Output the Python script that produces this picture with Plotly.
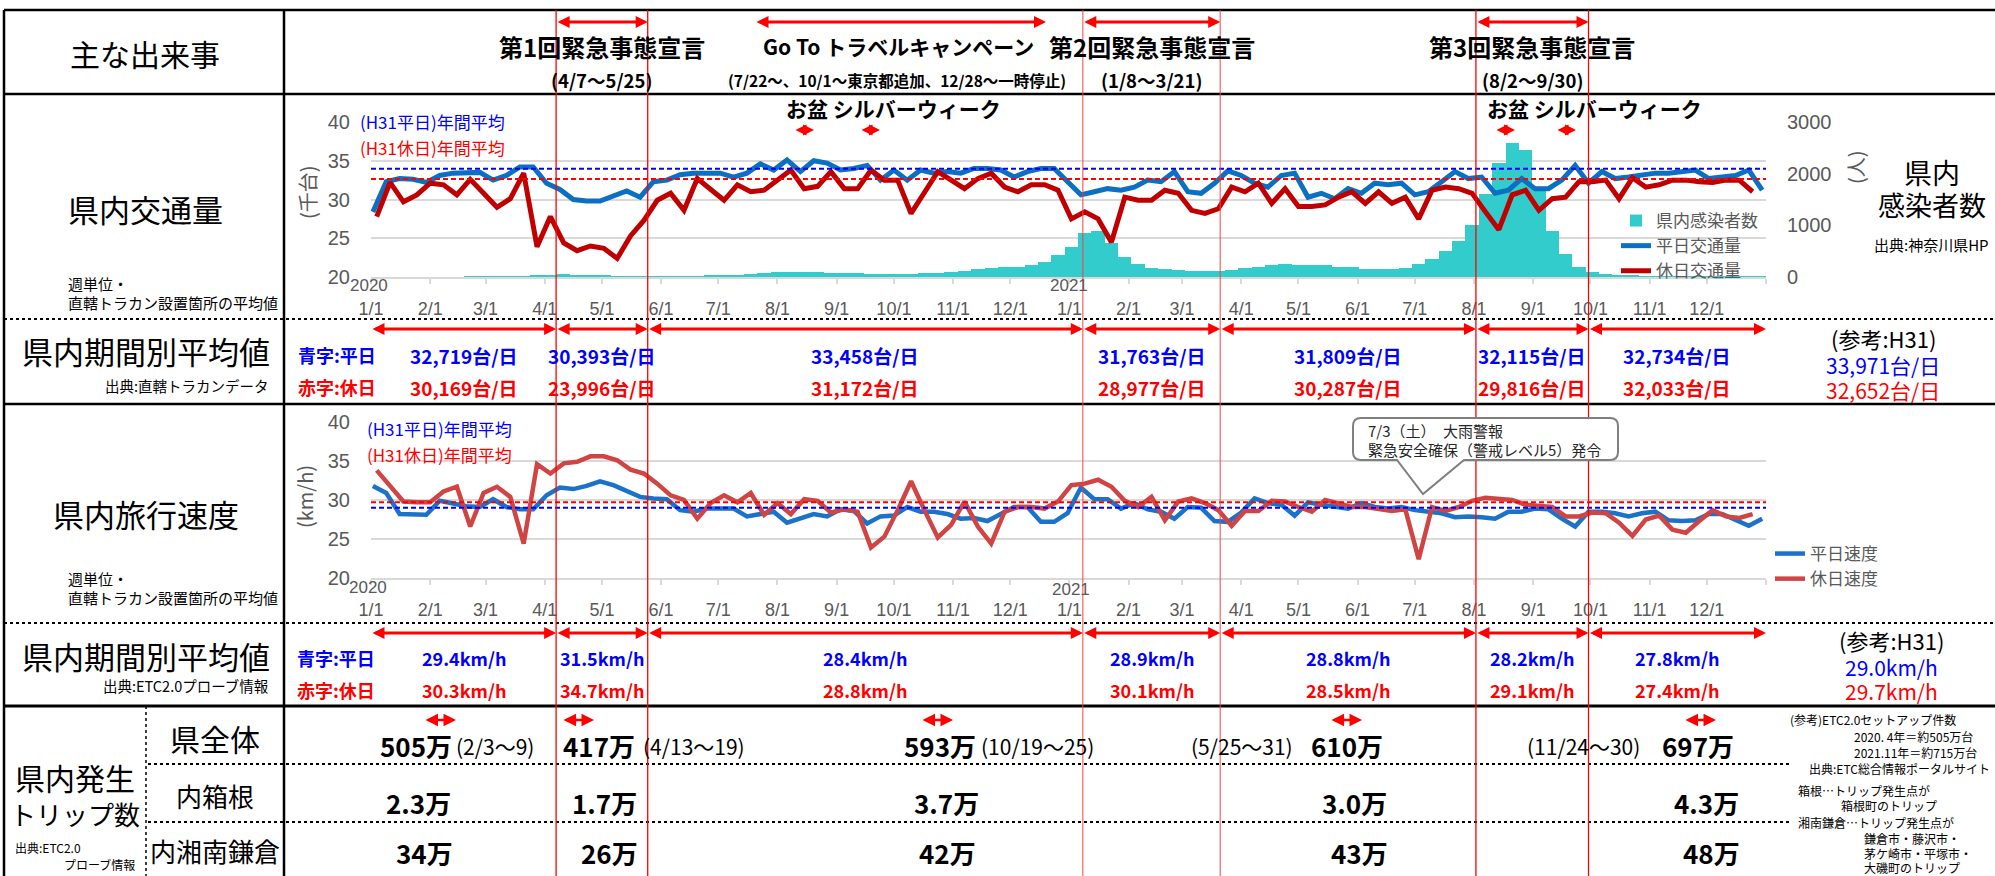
import plotly.graph_objects as go
import pandas as pd

W, H = 1995, 876
JP = "Noto Sans CJK JP"
LAT = "Liberation Sans"
GRAY = "#595959"
BLUE_T = "#0000FF"
RED_T = "#FF0000"

# ---------------- data ----------------
traffic_weekday = [28.4, 32.3, 32.7, 32.6, 32.2, 33.1, 33.4, 33.5, 33.5, 32.5, 33.1, 34.2, 34.2, 32.1, 31.3,
                   30.0, 29.8, 29.8, 30.4, 31.1, 30.3, 32.3, 32.5, 33.2, 33.4, 33.4, 33.4, 32.9, 33.4, 34.6,
                   33.8, 35.1, 33.6, 35.0, 34.7, 33.8, 34.0, 34.4, 32.5, 33.8, 32.5, 33.8, 33.4, 33.6, 33.4,
                   34.0, 34.0, 33.8, 32.9, 33.6, 34.0, 34.0, 32.3, 30.6, 31.0, 31.4, 31.2, 31.6, 32.5, 32.3,
                   33.6, 31.0, 30.8, 32.1, 33.7, 33.1, 32.1, 31.6, 33.1, 33.4, 30.3, 30.8, 30.1, 31.4, 30.8,
                   32.1, 31.9, 32.1, 30.6, 31.0, 32.3, 33.6, 32.7, 32.9, 30.8, 31.2, 32.7, 31.4, 31.4, 32.5,
                   34.4, 32.1, 33.6, 32.7, 32.9, 33.1, 33.4, 33.4, 33.6, 33.8, 32.7, 32.9, 33.1, 33.8, 31.2]
traffic_holiday = [27.8, 32.2, 29.7, 30.6, 32.1, 31.9, 30.6, 32.6, 30.8, 29.0, 30.1, 33.4, 23.9, 27.8, 24.4,
                   23.4, 24.0, 23.7, 22.4, 25.3, 27.3, 29.9, 30.8, 28.6, 32.7, 31.4, 29.9, 31.9, 31.0, 31.2,
                   32.5, 33.8, 31.4, 31.7, 33.6, 31.4, 31.4, 33.8, 32.5, 32.5, 28.2, 31.0, 33.6, 32.5, 31.4,
                   32.7, 33.4, 31.6, 31.0, 31.9, 31.9, 31.2, 27.5, 28.4, 27.5, 24.5, 30.3, 29.9, 29.9, 31.2,
                   30.8, 28.6, 28.2, 28.8, 31.6, 31.0, 32.1, 29.5, 31.4, 29.1, 29.1, 29.3, 30.3, 31.0, 29.5,
                   31.0, 29.5, 30.3, 27.5, 31.2, 31.6, 31.4, 30.8, 28.4, 26.1, 30.6, 31.2, 28.6, 30.1, 30.3,
                   32.3, 32.3, 32.5, 30.1, 32.8, 31.6, 31.9, 32.5, 32.5, 32.3, 32.2, 32.5, 32.5, 31.0]
cases_weekly = [0, 0, 0, 0, 0, 0, 0, 1, 3, 5, 8, 12, 20,
                40, 50, 45, 35, 20,
                10, 5, 3, 3, 5, 8, 12, 20,
                25, 35, 60, 80, 90, 100, 95, 90, 80,
                80, 70, 60, 60, 60, 60, 70, 80, 100,
                120, 150, 180, 200, 190, 230, 300, 420,
                580, 850, 900, 650, 380, 250, 180, 150, 130, 120, 110, 120, 130,
                180, 200, 230, 250, 240, 230, 230, 200, 190, 160, 150, 160, 180,
                250, 350, 500, 700, 1000, 1600, 2200, 2600, 2450, 1700, 900, 450, 200, 100,
                50, 30, 20, 15, 10, 10, 8, 8, 5, 5, 5, 5, 8]
speed_weekday = [31.8, 30.9, 28.2, 28.1, 28.1, 29.9, 29.5, 29.2, 29.1, 30.1, 29.1, 28.8, 28.8, 30.6, 31.6,
                 31.4, 31.8, 32.4, 31.9, 31.1, 30.4, 30.2, 30.1, 28.7, 28.5, 28.9, 28.9, 28.9, 27.9, 28.2,
                 28.5, 27.1, 27.6, 28.2, 27.9, 28.8, 28.6, 27.0, 27.9, 28.0, 29.1, 28.5, 28.5, 28.2, 27.6,
                 27.7, 27.3, 28.2, 29.1, 29.1, 27.2, 27.2, 28.3, 31.6, 30.1, 30.1, 28.9, 29.6, 28.8, 28.5,
                 27.6, 29.1, 29.0, 27.3, 27.2, 28.4, 30.2, 29.6, 29.4, 28.0, 29.7, 29.4, 29.1, 28.9, 29.6,
                 29.1, 28.9, 29.1, 28.7, 28.5, 28.3, 27.8, 27.9, 27.8, 27.6, 28.5, 28.5, 28.9, 28.8, 27.6,
                 26.6, 28.5, 28.5, 28.3, 27.9, 28.3, 28.5, 27.4, 27.3, 27.4, 28.2, 28.2, 27.4, 26.7, 27.6]
speed_holiday = [33.8, 31.7, 29.8, 29.7, 29.7, 31.1, 31.7, 26.6, 30.9, 31.7, 30.4, 24.4, 34.6, 33.4, 34.7,
                 34.9, 35.6, 35.6, 35.1, 33.9, 33.4, 32.1, 30.6, 30.0, 27.6, 29.6, 30.6, 29.7, 30.9, 28.1,
                 29.6, 28.2, 30.1, 29.9, 28.4, 28.8, 28.5, 23.9, 25.3, 28.7, 32.4, 28.7, 25.2, 26.8, 29.8,
                 26.6, 24.4, 28.5, 29.1, 29.1, 28.9, 29.8, 31.9, 32.1, 32.6, 31.7, 29.9, 29.1, 30.4, 27.4,
                 29.8, 30.2, 29.6, 28.7, 26.7, 28.6, 28.6, 29.9, 29.8, 29.1, 28.5, 30.0, 29.6, 29.1, 29.1,
                 28.8, 28.6, 28.8, 22.4, 29.1, 28.6, 29.1, 29.9, 30.3, 30.1, 30.0, 29.4, 29.3, 29.1, 27.9,
                 27.9, 28.4, 28.3, 27.1, 25.4, 27.5, 28.0, 26.2, 25.8, 27.3, 28.7, 27.9, 27.7, 28.2]
h31_traffic_weekday = 33.971
h31_traffic_holiday = 32.652
h31_speed_weekday = 29.0
h31_speed_holiday = 29.7

event_names = ["第1回緊急事態宣言", "第2回緊急事態宣言", "第3回緊急事態宣言"]
event_labels = ["(4/7～5/25)", "(1/8～3/21)", "(8/2～9/30)"]
event_start = ["2020-04-07", "2021-01-08", "2021-08-02"]
event_end = ["2020-05-25", "2021-03-21", "2021-09-30"]

period_bounds = ["2020-01-01", "2020-04-07", "2020-05-25", "2021-01-08", "2021-03-21",
                 "2021-08-02", "2021-09-30", "2022-01-01"]
period_traffic_weekday = ["32,719台/日", "30,393台/日", "33,458台/日", "31,763台/日",
                          "31,809台/日", "32,115台/日", "32,734台/日"]
period_traffic_holiday = ["30,169台/日", "23,996台/日", "31,172台/日", "28,977台/日",
                          "30,287台/日", "29,816台/日", "32,033台/日"]
period_speed_weekday = ["29.4km/h", "31.5km/h", "28.4km/h", "28.9km/h", "28.8km/h", "28.2km/h", "27.8km/h"]
period_speed_holiday = ["30.3km/h", "34.7km/h", "28.8km/h", "30.1km/h", "28.5km/h", "29.1km/h", "27.4km/h"]
ref_traffic = ["33,971台/日", "32,652台/日"]
ref_speed = ["29.0km/h", "29.7km/h"]

trip_total = ["505万", "417万", "593万", "610万", "697万"]
trip_week = ["(2/3～9)", "(4/13～19)", "(10/19～25)", "(5/25～31)", "(11/24～30)"]
trip_hakone = ["2.3万", "1.7万", "3.7万", "3.0万", "4.3万"]
trip_shonan = ["34万", "26万", "42万", "43万", "48万"]

# ---------------- helpers ----------------
def X(px):
    return px / W


def Y(py):
    return 1 - py / H


XL, XR = 371, 1766
D0, D1 = pd.Timestamp("2020-01-01"), pd.Timestamp("2022-01-01")


def dpx(d):
    return XL + (pd.Timestamp(d) - D0).days / (D1 - D0).days * (XR - XL)


anns = []
shapes = []


def T(px, py, s, size, color="black", xanchor="center", bold=False, family=JP, angle=0):
    anns.append(dict(x=X(px), y=Y(py), xref="paper", yref="paper",
                     text=f"<b>{s}</b>" if bold else s, showarrow=False,
                     font=dict(size=size, color=color, family=family),
                     xanchor=xanchor, yanchor="middle", textangle=angle))


def A(x1, x2, py, width=3, size=0.8, color="red"):
    anns.append(dict(x=X(x2), y=Y(py), xref="paper", yref="paper", ax=-(x2 - x1), ay=0,
                     axref="pixel", ayref="pixel", text="", showarrow=True,
                     arrowhead=2, startarrowhead=2, arrowside="end+start",
                     arrowwidth=width, arrowsize=size, startarrowsize=size,
                     arrowcolor=color, standoff=0, startstandoff=0))


def L(x0, y0, x1, y1, width=2.5, dash="solid", color="black"):
    shapes.append(dict(type="line", xref="paper", yref="paper", x0=X(x0), y0=Y(y0), x1=X(x1), y1=Y(y1),
                       line=dict(color=color, width=width, dash=dash), layer="above"))


# ---------------- traces ----------------
dates_weekday = pd.date_range("2020-01-02", periods=len(traffic_weekday), freq="7D")
dates_holiday = pd.date_range("2020-01-04", periods=len(traffic_holiday), freq="7D")
dates_cases = pd.date_range("2020-01-04", periods=len(cases_weekly), freq="7D")
span = [D0, D1]

fig = go.Figure()
fig.add_trace(go.Bar(x=dates_cases, y=cases_weekly, width=7 * 86400000, marker=dict(color="#33CCCC", line=dict(width=0)),
                     name="県内感染者数", xaxis="x", yaxis="y", legend="legend"))
fig.add_trace(go.Scatter(x=dates_weekday, y=traffic_weekday, mode="lines", line=dict(color="#0B70C2", width=5),
                         name="平日交通量", xaxis="x", yaxis="y2", legend="legend"))
fig.add_trace(go.Scatter(x=dates_holiday, y=traffic_holiday, mode="lines", line=dict(color="#C00000", width=5),
                         name="休日交通量", xaxis="x", yaxis="y2", legend="legend"))
fig.add_trace(go.Scatter(x=span, y=[h31_traffic_weekday] * 2, mode="lines", showlegend=False,
                         line=dict(color="#0000FF", width=2, dash="5px,3px"), xaxis="x", yaxis="y2"))
fig.add_trace(go.Scatter(x=span, y=[h31_traffic_holiday] * 2, mode="lines", showlegend=False,
                         line=dict(color="#FF0000", width=2, dash="5px,3px"), xaxis="x", yaxis="y2"))

fig.add_trace(go.Scatter(x=dates_weekday, y=speed_weekday, mode="lines", line=dict(color="#1A73C9", width=4.5),
                         name="平日速度", xaxis="x2", yaxis="y3", legend="legend2"))
fig.add_trace(go.Scatter(x=dates_holiday, y=speed_holiday, mode="lines", line=dict(color="#D04444", width=4.5),
                         name="休日速度", xaxis="x2", yaxis="y3", legend="legend2"))
fig.add_trace(go.Scatter(x=span, y=[h31_speed_weekday] * 2, mode="lines", showlegend=False,
                         line=dict(color="#0000FF", width=2, dash="5px,3px"), xaxis="x2", yaxis="y3"))
fig.add_trace(go.Scatter(x=span, y=[h31_speed_holiday] * 2, mode="lines", showlegend=False,
                         line=dict(color="#FF0000", width=2, dash="5px,3px"), xaxis="x2", yaxis="y3"))

# ---------------- axes ----------------
tick_dates = pd.date_range("2020-01-01", "2022-01-01", freq="MS")
tick_text = [f"{d.month}/1" for d in tick_dates[:-1]] + [""]

xcommon = dict(type="date", range=span, tickvals=tick_dates, ticktext=tick_text, ticks="outside", ticklen=5,
               tickcolor="#D9D9D9", tickwidth=1.5, showline=True, linecolor="#D9D9D9", linewidth=2,
               showgrid=False, zeroline=False, tickfont=dict(size=18, color=GRAY, family=LAT),
               ticklabelstandoff=9, automargin=False)
ycommon = dict(zeroline=False, tickfont=dict(size=20, color=GRAY, family=LAT), automargin=False,
               ticks="", ticklabelstandoff=20)

layout = dict(
    width=W, height=H, margin=dict(l=0, r=0, t=0, b=0), autosize=False, template="none",
    paper_bgcolor="white", plot_bgcolor="white", font=dict(family=JP),
    bargap=0,
    xaxis=dict(domain=[X(XL), X(XR)], anchor="y", **xcommon),
    yaxis=dict(domain=[Y(277), Y(122)], anchor="x", side="right", range=[0, 3000],
               tickvals=[0, 1000, 2000, 3000], showgrid=False, **ycommon),
    yaxis2=dict(overlaying="y", anchor="x", side="left", range=[20, 40], tickvals=[20, 25, 30, 35, 40],
                showgrid=True, gridcolor="#D9D9D9", gridwidth=2, **ycommon),
    xaxis2=dict(domain=[X(XL), X(XR)], anchor="y3", **xcommon),
    yaxis3=dict(domain=[Y(578), Y(422)], anchor="x2", range=[20, 40], tickvals=[20, 25, 30, 35, 40],
                showgrid=True, gridcolor="#D9D9D9", gridwidth=2, **ycommon),
    legend=dict(x=X(1616), y=Y(203), xanchor="left", yanchor="top", bgcolor="rgba(0,0,0,0)",
                font=dict(size=17, color=GRAY, family=JP), tracegroupgap=0),
    legend2=dict(x=X(1770), y=Y(536), xanchor="left", yanchor="top", bgcolor="rgba(0,0,0,0)",
                 font=dict(size=17, color=GRAY, family=JP), tracegroupgap=0),
)

# ---------------- table frame ----------------
L(4, 10, 1995, 10)
L(4, 94, 1995, 94)
L(4, 404, 1995, 404)
L(4, 706, 1995, 706, width=3)
L(4, 319, 1995, 319, width=2, dash="dot")
L(4, 623, 1995, 623, width=2, dash="dot")
L(148, 764, 1790, 764, width=2, dash="dot")
L(148, 822, 1790, 822, width=2, dash="dot")
L(4, 10, 4, 876)
L(284, 10, 284, 876)
L(146, 706, 146, 876, width=1.5, dash="dot")

# red vertical lines at emergency declaration boundaries
for k, (s, e) in enumerate(zip(event_start, event_end)):
    col = "rgba(255,60,60,0.75)" if k == 1 else "#FF0000"
    for d in (s, e):
        shapes.append(dict(type="line", xref="x", yref="paper", x0=d, x1=d, y0=Y(876), y1=Y(10),
                           line=dict(color=col, width=1.3), layer="above"))

# ---------------- header row ----------------
T(145, 53, "主な出来事", 30)
for name, lab, s, e in zip(event_names, event_labels, event_start, event_end):
    c = (dpx(s) + dpx(e)) / 2
    T(c, 47, name, 24, bold=True)
    T(c, 80, lab, 18.5, bold=True)
    A(dpx(s), dpx(e), 22)
T(898, 46, "Go To トラベルキャンペーン", 21, bold=True)
T(897, 80, "(7/22～、10/1～東京都追加、12/28～一時停止)", 15.5, bold=True)
A(755, 1046, 22)

# ---------------- traffic row ----------------
T(145, 208, "県内交通量", 31)
T(66, 283, "週単位・", 15, xanchor="left")
T(66, 303, "直轄トラカン設置箇所の平均値", 15, xanchor="left")
T(358, 121, "(H31平日)年間平均", 17, BLUE_T, xanchor="left")
T(358, 147, "(H31休日)年間平均", 17, RED_T, xanchor="left")
for x0 in (784, 1485):
    T(x0, 108, "お盆 シルバーウィーク", 21, xanchor="left", bold=True)
for cx in (804, 870, 1505, 1566):
    A(cx - 10, cx + 10, 130, width=2, size=1.1)
T(307, 192, "(千台)", 20, GRAY, angle=-90)
T(1855, 167, "(人)", 20, GRAY, angle=-90)
T(369, 285, "2020", 17, GRAY, family=LAT)
T(1069, 285, "2021", 17, GRAY, family=LAT)
T(1932, 172, "県内", 28)
T(1932, 205, "感染者数", 27)
T(1931, 245, "出典:神奈川県HP", 15)

# ---------------- traffic period averages ----------------
T(146, 350, "県内期間別平均値", 31)
T(271, 385, "出典:直轄トラカンデータ", 14.5, xanchor="right")
T(296, 355, "青字:平日", 18, BLUE_T, xanchor="left", bold=True)
T(296, 387, "赤字:休日", 18, RED_T, xanchor="left", bold=True)
for i in range(len(period_bounds) - 1):
    a, b = dpx(period_bounds[i]), dpx(period_bounds[i + 1])
    A(a, b, 329)
    T((a + b) / 2, 355, period_traffic_weekday[i], 19, BLUE_T, bold=True)
    T((a + b) / 2, 387, period_traffic_holiday[i], 19, RED_T, bold=True)
T(1883, 338, "(参考:H31)", 22)
T(1883, 365, ref_traffic[0], 21, BLUE_T)
T(1883, 390, ref_traffic[1], 21, RED_T)

# ---------------- speed row ----------------
T(146, 513, "県内旅行速度", 31)
T(66, 578, "週単位・", 15, xanchor="left")
T(66, 597, "直轄トラカン設置箇所の平均値", 15, xanchor="left")
T(365, 428, "(H31平日)年間平均", 17, BLUE_T, xanchor="left")
T(365, 454, "(H31休日)年間平均", 17, RED_T, xanchor="left")
T(304, 497, "(km/h)", 20, GRAY, angle=-90)
T(368, 587, "2020", 17, GRAY, family=LAT)
T(1071, 589, "2021", 17, GRAY, family=LAT)

# callout box
bx0, bx1, by0, by1, r = 1353, 1618, 418, 460, 8
tb1, tb2, tipx, tipy = 1397, 1464, 1423, 494
pts = [("M", bx0 + r, by0), ("L", bx1 - r, by0), ("Q", bx1, by0, bx1, by0 + r), ("L", bx1, by1 - r),
       ("Q", bx1, by1, bx1 - r, by1), ("L", tb2, by1), ("L", tipx, tipy), ("L", tb1, by1),
       ("L", bx0 + r, by1), ("Q", bx0, by1, bx0, by1 - r), ("L", bx0, by0 + r), ("Q", bx0, by0, bx0 + r, by0)]
path = ""
for p in pts:
    cmd, coords = p[0], p[1:]
    path += cmd + " ".join(f"{X(coords[j]):.6f},{Y(coords[j + 1]):.6f}" for j in range(0, len(coords), 2)) + " "
path += "Z"
shapes.append(dict(type="path", xref="paper", yref="paper", path=path, fillcolor="white",
                   line=dict(color="#7F7F7F", width=2), layer="above"))
T(1366, 430, "7/3（土）　大雨警報", 15, "#262626", xanchor="left")
T(1366, 449, "緊急安全確保（警戒レベル5）発令", 15, "#262626", xanchor="left")

# ---------------- speed period averages ----------------
T(146, 655, "県内期間別平均値", 31)
T(271, 685, "出典:ETC2.0プローブ情報", 14.5, xanchor="right")
T(295, 658, "青字:平日", 18, BLUE_T, xanchor="left", bold=True)
T(295, 690, "赤字:休日", 18, RED_T, xanchor="left", bold=True)
for i in range(len(period_bounds) - 1):
    a, b = dpx(period_bounds[i]), dpx(period_bounds[i + 1])
    A(a, b, 633)
    T((a + b) / 2, 658, period_speed_weekday[i], 18, BLUE_T, bold=True)
    T((a + b) / 2, 690, period_speed_holiday[i], 18, RED_T, bold=True)
T(1891, 640, "(参考:H31)", 22)
T(1891, 667, ref_speed[0], 21, BLUE_T)
T(1891, 691, ref_speed[1], 21, RED_T)

# ---------------- trip rows ----------------
T(75, 777, "県内発生", 30)
T(75, 813, "トリップ数", 26)
T(13, 847, "出典:ETC2.0", 12, xanchor="left")
T(137, 864, "プローブ情報", 12, xanchor="right")
T(215, 738, "県全体", 30)
T(215, 795, "内箱根", 26)
T(215, 850, "内湘南鎌倉", 26)

num_left = [378, 561, 902, 1309, 1660]
week_left = [454, 641, 979, 1189, 1525]
arrow_c = [440, 578, 937, 1346, 1700]
hak_c = [418, 604, 946, 1354, 1706]
sho_c = [424, 609, 947, 1359, 1711]
for k in range(5):
    A(arrow_c[k] - 16, arrow_c[k] + 16, 720, width=2.5, size=1.0)
    T(num_left[k], 745, trip_total[k], 26, xanchor="left", bold=True)
    T(week_left[k], 746, trip_week[k], 21, xanchor="left")
    T(hak_c[k], 802, trip_hakone[k], 26, bold=True)
    T(sho_c[k], 852, trip_shonan[k], 26, bold=True)

T(1788, 719, "(参考)ETC2.0セットアップ件数", 12, xanchor="left")
T(1852, 736, "2020. 4年＝約505万台", 12, xanchor="left")
T(1852, 752, "2021.11年＝約715万台", 12, xanchor="left")
T(1807, 768, "出典:ETC総合情報ポータルサイト", 12, xanchor="left")
T(1796, 790, "箱根…トリップ発生点が", 12, xanchor="left")
T(1839, 805, "箱根町のトリップ", 12, xanchor="left")
T(1796, 822, "湘南鎌倉…トリップ発生点が", 12, xanchor="left")
T(1862, 838, "鎌倉市・藤沢市・", 12, xanchor="left")
T(1862, 853, "茅ケ崎市・平塚市・", 12, xanchor="left")
T(1862, 867, "大磯町のトリップ", 12, xanchor="left")

layout["annotations"] = anns
layout["shapes"] = shapes
fig.update_layout(**layout)
fig.write_html("out.html", config={"displayModeBar": False},
               post_script="document.body.style.margin='0px';document.body.style.overflow='hidden';")
